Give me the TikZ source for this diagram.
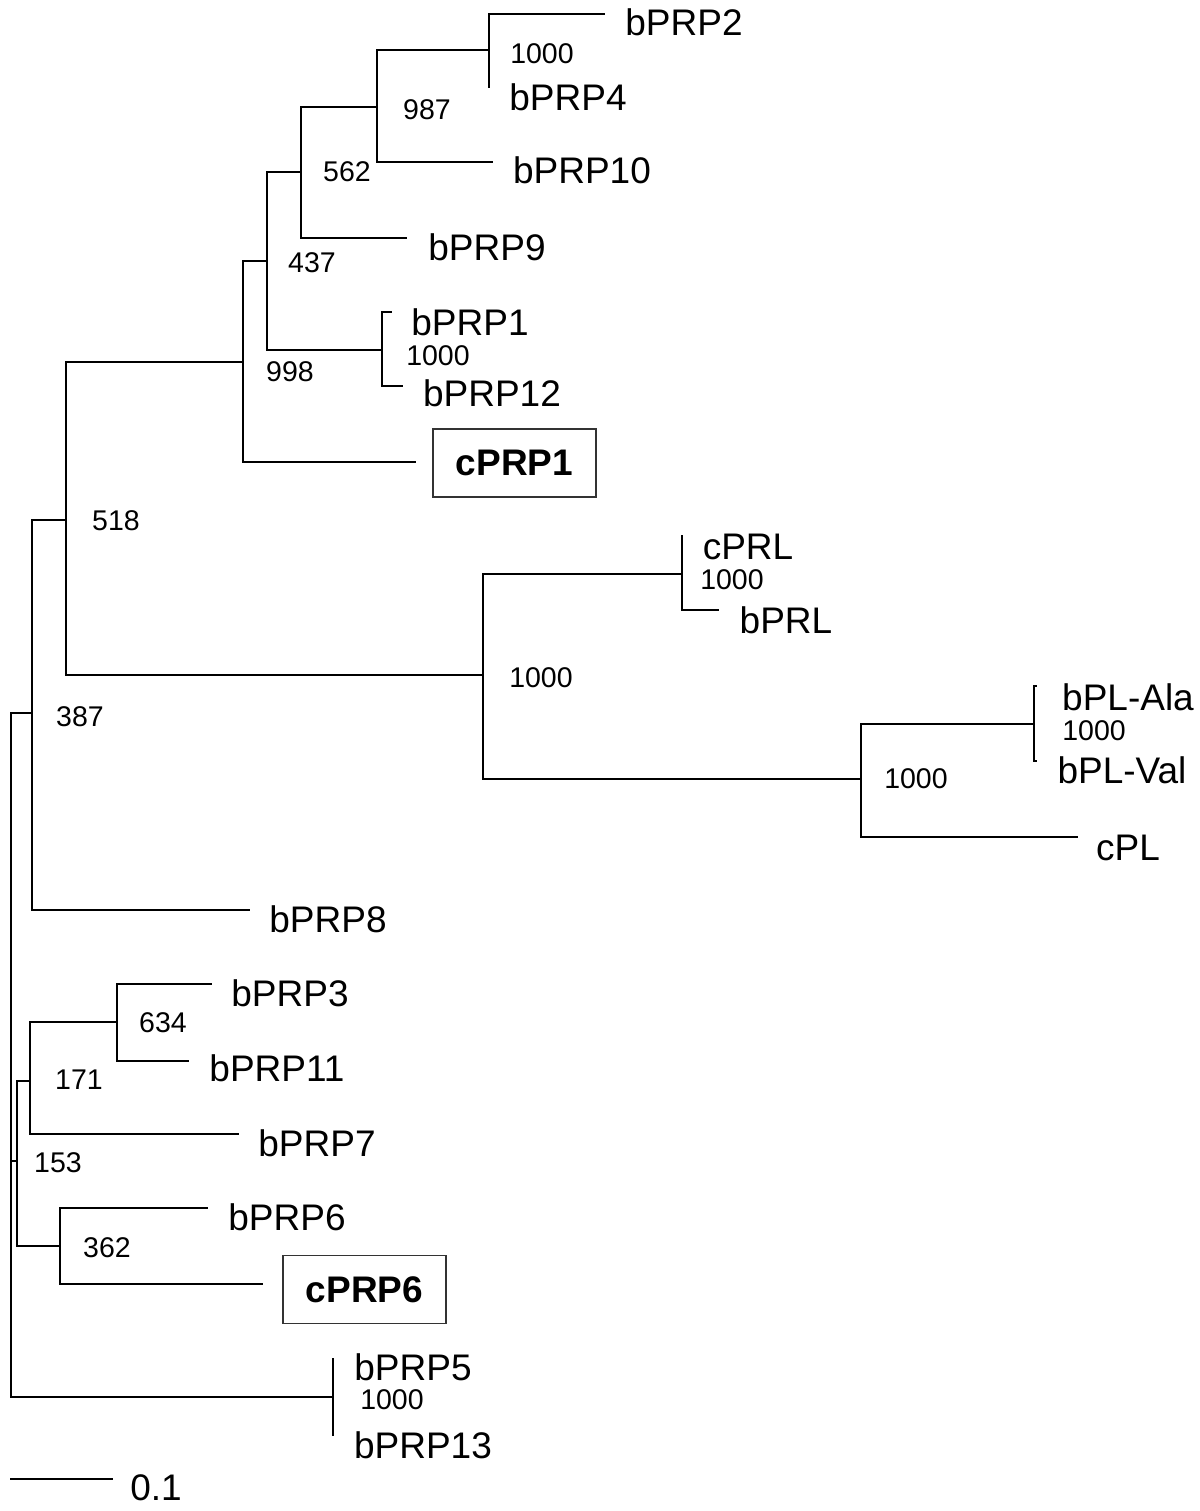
\documentclass[tikz,border=0pt]{standalone}
\usepackage{fontspec}
\setmainfont{Liberation Sans}
\tikzset{
  branch/.style={line width=1.4pt},
  leaf/.style={inner sep=0pt, font=\fontsize{18.5}{22}\selectfont},
  boot/.style={inner sep=0pt, font=\fontsize{14.25}{17}\selectfont},
  hilite/.style={draw=black!80, line width=0.8pt, inner sep=0pt,
    minimum width=81.5pt, minimum height=34pt,
    font=\fontsize{18.5}{22}\selectfont\bfseries},
}
\begin{document}
\begin{tikzpicture}[x=0.5pt,y=-0.5pt]
\useasboundingbox (0,0) rectangle (1200,1511);
% internal nodes
\coordinate (R) at (11,1055);
\coordinate (L) at (32,713);
\coordinate (G) at (66,520);
\coordinate (F) at (243,362);
\coordinate (D) at (267,261);
\coordinate (C) at (301,172);
\coordinate (B) at (377,107);
\coordinate (A) at (489,50);
\coordinate (E) at (382,350);
\coordinate (H) at (483,675);
\coordinate (I) at (682,574);
\coordinate (J) at (861,779);
\coordinate (K) at (1034,724);
\coordinate (M) at (17,1161);
\coordinate (N) at (30,1081);
\coordinate (O) at (117,1022);
\coordinate (P) at (60,1246);
\coordinate (Q) at (333,1397);
% leaf tips
\coordinate (t2) at (605,14);
\coordinate (t4) at (489,88);
\coordinate (t10) at (493,162);
\coordinate (t9) at (407,238);
\coordinate (t1) at (392,312);
\coordinate (t12) at (403,386);
\coordinate (tc1) at (416,462);
\coordinate (tcprl) at (682,535);
\coordinate (tbprl) at (719,610);
\coordinate (tala) at (1037,686);
\coordinate (tval) at (1037,761);
\coordinate (tcpl) at (1078,837);
\coordinate (t8) at (250,910);
\coordinate (t3) at (212,984);
\coordinate (t11) at (189,1061);
\coordinate (t7) at (239,1134);
\coordinate (t6) at (208,1208);
\coordinate (tc6) at (263,1284);
\coordinate (t5) at (333,1358);
\coordinate (t13) at (333,1436);
% branches
\draw[branch] (R) |- (L);
\draw[branch] (L) |- (G);
\draw[branch] (G) |- (F);
\draw[branch] (F) |- (D);
\draw[branch] (D) |- (C);
\draw[branch] (C) |- (B);
\draw[branch] (B) |- (A);
\draw[branch] (A) |- (t2);
\draw[branch] (A) |- (t4);
\draw[branch] (B) |- (t10);
\draw[branch] (C) |- (t9);
\draw[branch] (D) |- (E);
\draw[branch] (E) |- (t1);
\draw[branch] (E) |- (t12);
\draw[branch] (F) |- (tc1);
\draw[branch] (G) |- (H);
\draw[branch] (H) |- (I);
\draw[branch] (I) |- (tcprl);
\draw[branch] (I) |- (tbprl);
\draw[branch] (H) |- (J);
\draw[branch] (J) |- (K);
\draw[branch] (K) |- (tala);
\draw[branch] (K) |- (tval);
\draw[branch] (J) |- (tcpl);
\draw[branch] (L) |- (t8);
\draw[branch] (R) |- (M);
\draw[branch] (M) |- (N);
\draw[branch] (N) |- (O);
\draw[branch] (O) |- (t3);
\draw[branch] (O) |- (t11);
\draw[branch] (N) |- (t7);
\draw[branch] (M) |- (P);
\draw[branch] (P) |- (t6);
\draw[branch] (P) |- (tc6);
\draw[branch] (R) |- (Q);
\draw[branch] (Q) |- (t5);
\draw[branch] (Q) |- (t13);
% leaf labels
\node[leaf] (lb2) at (684,22) {bPRP2};
\node[leaf] (lb4) at (568,97) {bPRP4};
\node[leaf] (lb10) at (582,170) {bPRP10};
\node[leaf] (lb9) at (487,247) {bPRP9};
\node[leaf] (lb1) at (470,322) {bPRP1};
\node[leaf] (lb12) at (492,393) {bPRP12};
\node[hilite] (lc1) at (514.5,463) {cPRP1};
\node[leaf] (lcprl) at (748,547) {cPRL};
\node[leaf] (lbprl) at (786,620) {bPRL};
\node[leaf] (lala) at (1128,697) {bPL-Ala};
\node[leaf] (lval) at (1122,770) {bPL-Val};
\node[leaf] (lcpl) at (1128,848) {cPL};
\node[leaf] (lb8) at (328,919) {bPRP8};
\node[leaf] (lb3) at (290,993) {bPRP3};
\node[leaf] (lb11) at (277,1068) {bPRP11};
\node[leaf] (lb7) at (317,1143) {bPRP7};
\node[leaf] (lb6) at (287,1217) {bPRP6};
\node[hilite] (lc6) at (364.5,1289.5) {cPRP6};
\node[leaf] (lb5) at (413,1367) {bPRP5};
\node[leaf] (lb13) at (423,1445) {bPRP13};
% bootstrap values
\node[boot] (vA) at (542,54) {1000};
\node[boot] (vB) at (427,110) {987};
\node[boot] (vC) at (347,172) {562};
\node[boot] (vD) at (312,263) {437};
\node[boot] (vE) at (438,356) {1000};
\node[boot] (vF) at (290,372) {998};
\node[boot] (vG) at (116,521) {518};
\node[boot] (vL) at (80,717) {387};
\node[boot] (vH) at (541,678) {1000};
\node[boot] (vI) at (732,580) {1000};
\node[boot] (vJ) at (916,779) {1000};
\node[boot] (vK) at (1094,731) {1000};
\node[boot] (vO) at (163,1023) {634};
\node[boot] (vN) at (79,1080) {171};
\node[boot] (vM) at (58,1163) {153};
\node[boot] (vP) at (107,1248) {362};
\node[boot] (vQ) at (392,1400) {1000};
% scale bar
\coordinate (s0) at (10,1479);
\coordinate (s1) at (113,1479);
\draw[branch] (s0) -- (s1);
\node[leaf] (sl) at (156,1488) {0.1};
\end{tikzpicture}
\end{document}
